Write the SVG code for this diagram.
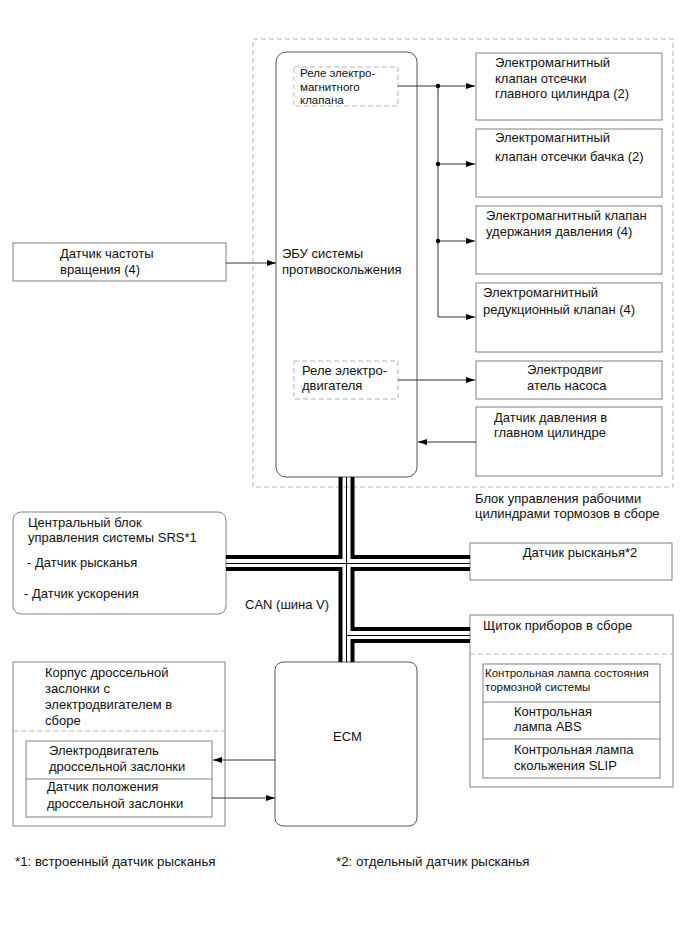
<svg xmlns="http://www.w3.org/2000/svg" width="690" height="951" viewBox="0 0 690 951">
<style>
text{font-family:"Liberation Sans",Arial,sans-serif;font-size:13px;fill:#111}
.sm{font-size:11.5px}
.fn{font-size:13.3px}
.box{fill:#fff;stroke:#808080;stroke-width:1}
.rbox{fill:#fff;stroke:#555;stroke-width:1}
.dash{fill:none;stroke:#b4b4b4;stroke-width:1;stroke-dasharray:5 3}
.ln{fill:none;stroke:#333;stroke-width:1}
.bus{fill:none;stroke:#000;stroke-width:4}
.bc{fill:none;stroke:#000;stroke-width:1}
</style>
<defs>
<marker id="ah" markerUnits="userSpaceOnUse" markerWidth="10" markerHeight="8" refX="9" refY="3" orient="auto">
<path d="M0,0 L9,3 L0,6 z" fill="#000"/>
</marker>
</defs>
<rect width="690" height="951" fill="#fff"/>

<g id="brake-actuator-group">
<rect class="dash" x="253" y="39" width="420" height="448"/>
<text x="475" y="503">Блок управления рабочими</text>
<text x="475" y="518">цилиндрами тормозов в сборе</text>
</g>

<g id="ecu">
<rect class="rbox" x="276" y="52" width="141" height="425" rx="10"/>
<text x="282" y="258">ЭБУ системы</text>
<text x="282" y="274">противоскольжения</text>
</g>
<g id="relay-valve">
<rect class="dash" x="294" y="67" width="104" height="39" fill="#fff"/>
<text class="sm" x="300" y="77">Реле электро-</text>
<text class="sm" x="300" y="91">магнитного</text>
<text class="sm" x="300" y="104">клапана</text>
</g>
<g id="relay-motor">
<rect class="dash" x="294" y="361" width="104" height="38"/>
<text x="302" y="375">Реле электро-</text>
<text x="302" y="390">двигателя</text>
</g>

<g id="valve-master-cut">
<rect class="box" x="476" y="53" width="186" height="67"/>
<text x="495" y="67">Электромагнитный</text>
<text x="495" y="83">клапан отсечки</text>
<text x="495" y="98">главного цилиндра (2)</text>
</g>
<g id="valve-reservoir-cut">
<rect class="box" x="476" y="129" width="186" height="68"/>
<text x="495" y="142">Электромагнитный</text>
<text x="495" y="161">клапан отсечки бачка (2)</text>
</g>
<g id="valve-hold">
<rect class="box" x="476" y="206" width="186" height="68"/>
<text x="486" y="220">Электромагнитный клапан</text>
<text x="486" y="236">удержания давления (4)</text>
</g>
<g id="valve-reduce">
<rect class="box" x="476" y="283" width="186" height="69"/>
<text x="483" y="297">Электромагнитный</text>
<text x="483" y="314">редукционный клапан (4)</text>
</g>
<g id="pump-motor">
<rect class="box" x="476" y="361" width="186" height="38"/>
<text x="527" y="374">Электродвиг</text>
<text x="527" y="390">атель насоса</text>
</g>
<g id="master-pressure-sensor">
<rect class="box" x="476" y="407" width="186" height="69"/>
<text x="494" y="422">Датчик давления в</text>
<text x="494" y="437">главном цилиндре</text>
</g>

<g id="speed-sensor">
<rect class="box" x="13" y="243" width="213" height="38"/>
<text x="60" y="258">Датчик частоты</text>
<text x="60" y="274">вращения (4)</text>
</g>

<g id="srs-unit">
<rect class="box" x="13" y="512" width="213" height="102" rx="8"/>
<text x="28" y="527">Центральный блок</text>
<text x="28" y="542">управления системы SRS*1</text>
<text x="27" y="567">- Датчик рысканья</text>
<text x="24" y="598">- Датчик ускорения</text>
</g>

<g id="yaw-sensor">
<rect class="box" x="470" y="543" width="202" height="37"/>
<text x="580" y="557" text-anchor="middle">Датчик рысканья*2</text>
</g>

<g id="cluster">
<rect class="box" x="470" y="615" width="203" height="172"/>
<text x="483" y="630">Щиток приборов в сборе</text>
<line class="dash" x1="470" y1="654" x2="673" y2="654"/>
<rect class="box" x="483" y="664" width="177" height="114"/>
<line class="box" x1="483" y1="702" x2="660" y2="702"/>
<line class="box" x1="483" y1="739" x2="660" y2="739"/>
<text class="sm" x="485" y="677">Контрольная лампа состояния</text>
<text class="sm" x="485" y="691">тормозной системы</text>
<text x="514" y="716">Контрольная</text>
<text x="514" y="731">лампа ABS</text>
<text x="514" y="754">Контрольная лампа</text>
<text x="514" y="770">скольжения SLIP</text>
</g>

<g id="ecm">
<rect class="rbox" x="275" y="662" width="142" height="164" rx="8"/>
<text x="333" y="741">ECM</text>
</g>

<g id="throttle-body">
<rect class="box" x="13" y="662" width="212" height="164"/>
<text x="45" y="677">Корпус дроссельной</text>
<text x="45" y="693">заслонки с</text>
<text x="45" y="709">электродвигателем в</text>
<text x="45" y="725">сборе</text>
<line class="dash" x1="13" y1="731" x2="225" y2="731"/>
<rect class="box" x="26" y="741" width="186" height="76"/>
<line class="box" x1="26" y1="779" x2="212" y2="779"/>
<text x="49" y="755">Электродвигатель</text>
<text x="49" y="771">дроссельной заслонки</text>
<text x="47" y="791">Датчик положения</text>
<text x="47" y="808">дроссельной заслонки</text>
</g>

<g id="connectors">
<path class="ln" d="M398,86 H475" marker-end="url(#ah)"/>
<path class="ln" d="M438,86 V317 H475" marker-end="url(#ah)"/>
<path class="ln" d="M438,164 H475" marker-end="url(#ah)"/>
<path class="ln" d="M438,241 H475" marker-end="url(#ah)"/>
<circle cx="438" cy="86" r="2.2" fill="#000"/>
<circle cx="438" cy="164" r="2.2" fill="#000"/>
<circle cx="438" cy="241" r="2.2" fill="#000"/>
<path class="ln" d="M398,380 H475" marker-end="url(#ah)"/>
<path class="ln" d="M476,442 H418" marker-end="url(#ah)"/>
<path class="ln" d="M226,263 H276" marker-end="url(#ah)"/>
<path class="ln" d="M275,760 H213" marker-end="url(#ah)"/>
<path class="ln" d="M212,798 H275" marker-end="url(#ah)"/>
<!-- CAN bus -->
<path class="bus" d="M340.5,477 V557 H226"/>
<path class="bus" d="M226,569 H340.5 V662"/>
<path class="bus" d="M352.5,477 V557 H470"/>
<path class="bus" d="M470,569 H352.5 V629 H470"/>
<path class="bus" d="M470,641 H352.5 V662"/>
<path class="bc" d="M346.5,477 V662 M226,563.5 H470 M346.5,635.5 H470"/>
<text x="245" y="609">CAN (шина V)</text>
</g>

<g id="footnotes">
<text class="fn" x="15" y="866">*1: встроенный датчик рысканья</text>
<text class="fn" x="336" y="866">*2: отдельный датчик рысканья</text>
</g>
</svg>
